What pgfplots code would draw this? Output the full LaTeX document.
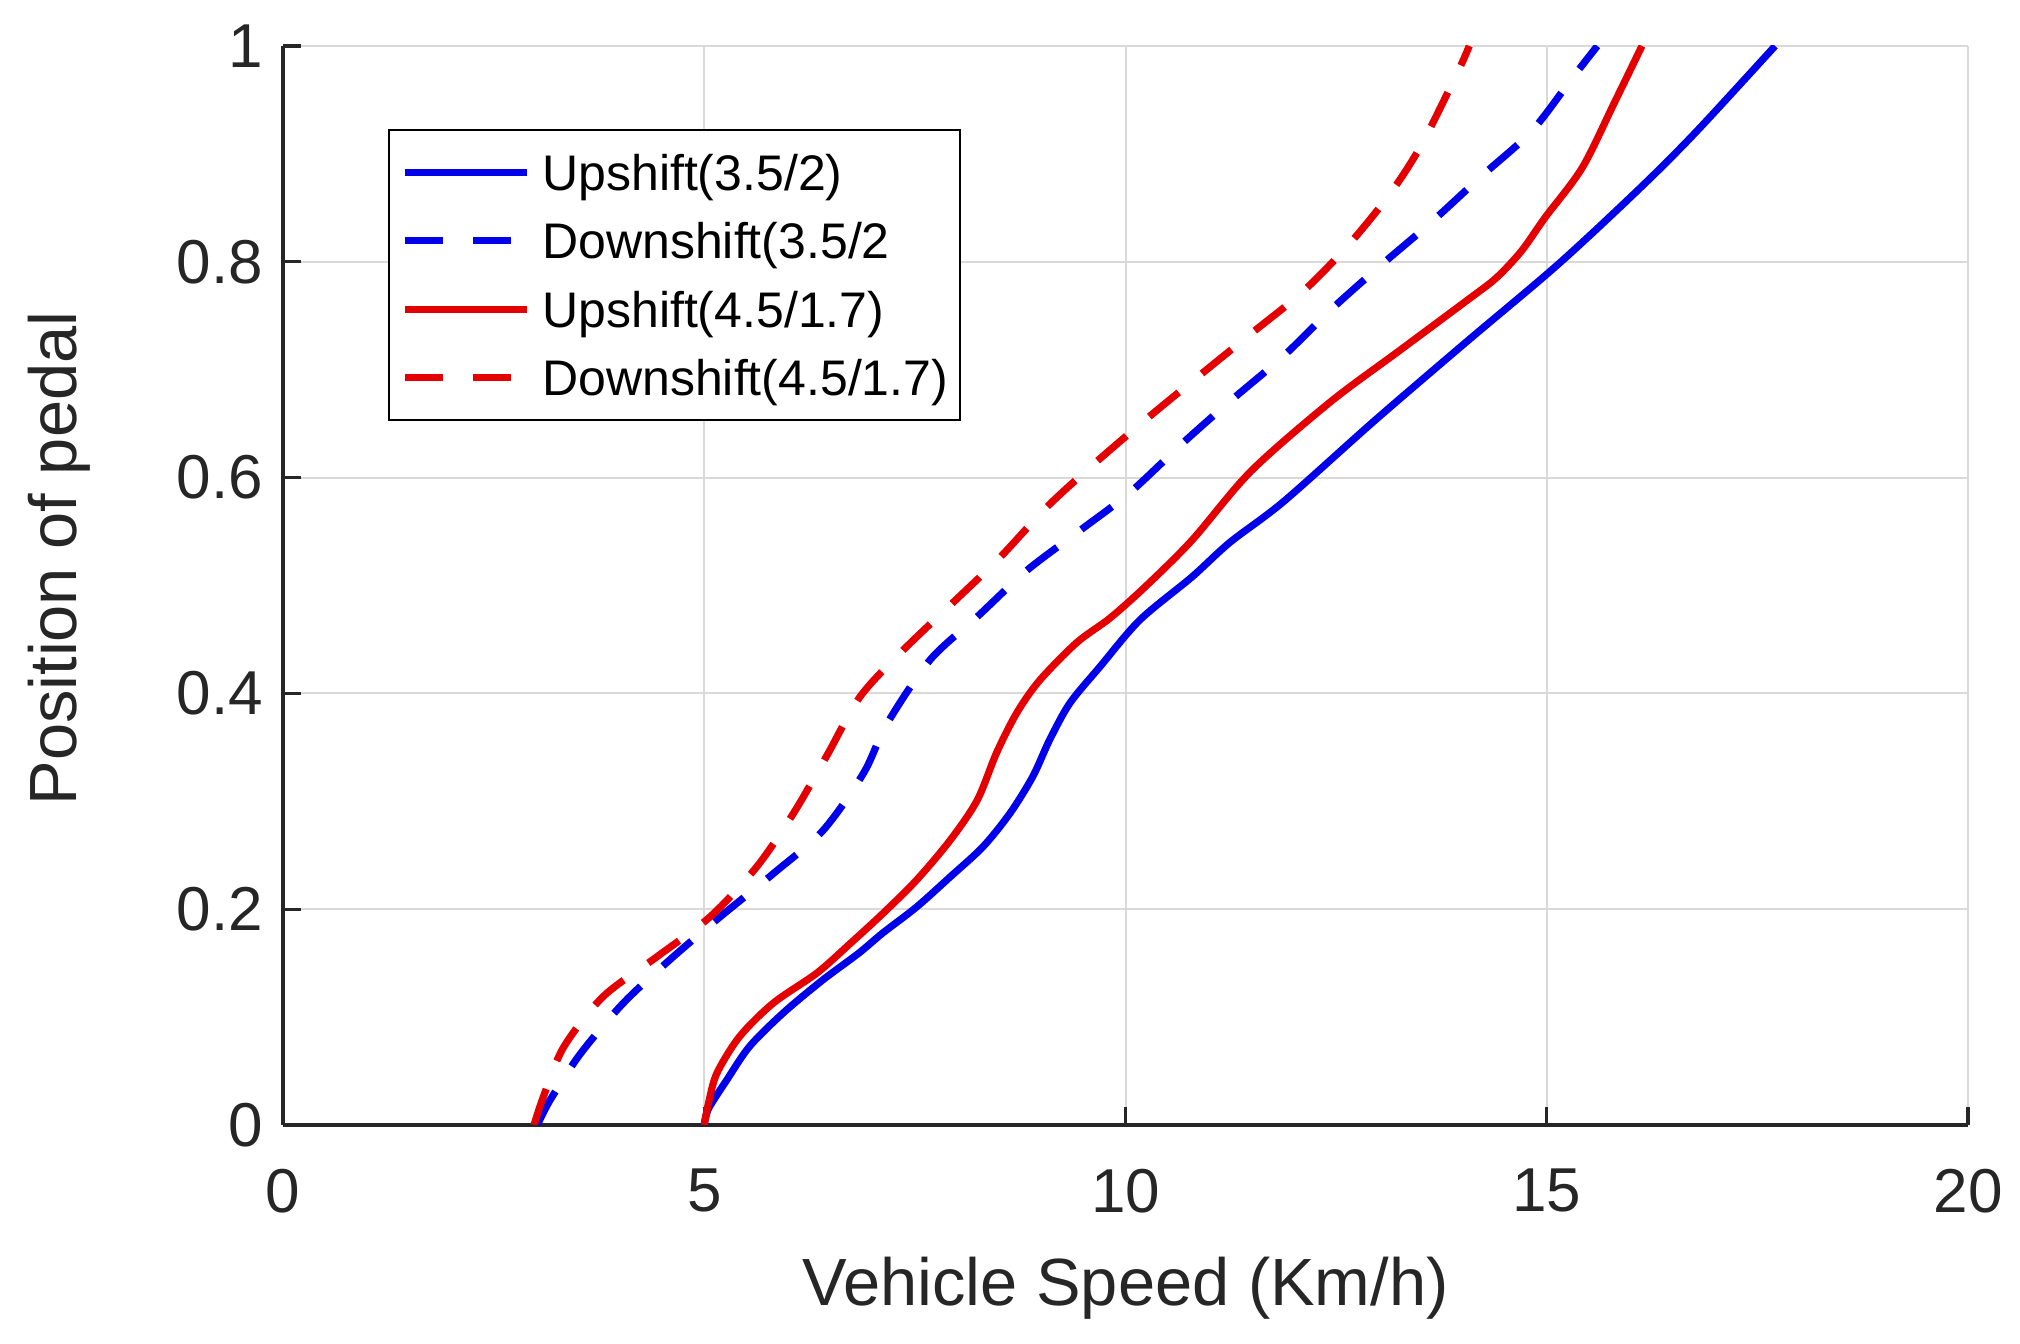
\documentclass[border=0pt]{standalone}
\usepackage{pgfplots}
\pgfplotsset{compat=1.18}
\usepackage{fontspec}
\setmainfont{Liberation Sans}
\definecolor{mblue}{RGB}{0,0,235}
\definecolor{mred}{RGB}{228,0,0}
\definecolor{axgray}{RGB}{38,38,38}
\begin{document}
\begin{tikzpicture}
\begin{axis}[
  name=ax,
  scale only axis, width=421.25pt, height=269.75pt,
  xmin=0, xmax=20, ymin=0, ymax=1,
  xtick={0,5,10,15,20}, ytick={0,0.2,0.4,0.6,0.8,1},
  axis x line*=bottom, axis y line*=left,
  axis line style={axgray, line width=0.8pt, -},
  tick align=inside, major tick length=4.5pt,
  tick style={axgray, line width=0.8pt},
  grid=major, grid style={black!15, line width=0.5pt},
  /pgf/number format/assume math mode=true,
  ticklabel style={font=\fontsize{15.5}{18}\selectfont, text=axgray},
  xticklabel style={yshift=-7.5pt},
  yticklabel style={xshift=-1.5pt},
  xlabel={Vehicle Speed (Km/h)}, ylabel={Position of pedal},
  label style={font=\fontsize{16.7}{20}\selectfont, text=axgray},
  xlabel style={at={(axis description cs:0.5,-0.151)}, anchor=center},
  ylabel style={at={(axis description cs:-0.133,0.525)}, anchor=center},
  legend cell align=left,
  legend image code/.code={\draw[#1] (0pt,0pt) -- (30.5pt,0pt);},
  legend style={at={(axis description cs:0.0623,0.923)}, anchor=north west,
    draw=black, line width=0.6pt, inner xsep=3pt, inner ysep=2pt,
    column sep=3pt, font=\fontsize{12.5}{15}\selectfont,
    nodes={inner sep=0pt, text height=13pt, text depth=4.1pt}},
  every axis plot/.append style={line width=1.8pt, smooth, tension=0.5},
]
\addplot[mblue, solid] coordinates {
(5.00,0) (5.05,0.015) (5.27,0.042) (5.54,0.073) (5.94,0.104) (6.40,0.134)
(6.83,0.159) (7.12,0.178) (7.52,0.202) (7.92,0.230) (8.31,0.258) (8.63,0.289)
(8.90,0.323) (9.10,0.357) (9.34,0.391) (9.70,0.425) (10.17,0.468)
(10.79,0.508) (11.24,0.540) (11.88,0.578) (12.96,0.653) (14.05,0.726)
(15.14,0.798) (16.13,0.870) (16.78,0.921) (17.71,1.0)};
\addlegendentry{Upshift(3.5/2)}
\addplot[mblue, dash pattern=on 9.5pt off 7.5pt] coordinates {
(3.02,0) (3.17,0.023) (3.53,0.066) (4.04,0.113) (4.59,0.153) (5.19,0.193)
(5.82,0.233) (6.41,0.273) (6.89,0.326) (7.17,0.372) (7.68,0.431) (8.24,0.471)
(8.83,0.514) (9.46,0.551) (10.05,0.586) (10.68,0.632) (11.23,0.670)
(11.88,0.713) (12.43,0.755) (13.02,0.796) (13.62,0.836) (14.22,0.879)
(14.82,0.921) (15.30,0.970) (15.60,1.0)};
\addlegendentry{Downshift(3.5/2}
\addplot[mred, solid] coordinates {
(5.00,0) (5.05,0.02) (5.15,0.048) (5.42,0.082) (5.82,0.113) (6.34,0.141)
(6.73,0.168) (7.12,0.196) (7.52,0.227) (7.92,0.264) (8.24,0.301) (8.47,0.345)
(8.71,0.382) (8.98,0.412) (9.42,0.447) (9.82,0.470) (10.25,0.500)
(10.79,0.542) (11.49,0.606) (12.43,0.670) (13.24,0.717) (14.05,0.764)
(14.40,0.785) (14.70,0.810) (14.98,0.841) (15.42,0.887) (15.80,0.947)
(16.13,1.0)};
\addlegendentry{Upshift(4.5/1.7)}
\addplot[mred, dash pattern=on 9.5pt off 7.5pt] coordinates {
(2.98,0) (3.09,0.026) (3.33,0.072) (3.80,0.119) (4.44,0.156) (5.07,0.193)
(5.62,0.239) (6.06,0.289) (6.46,0.343) (6.85,0.397) (7.36,0.440) (7.95,0.484)
(8.51,0.526) (9.07,0.573) (9.66,0.615) (10.29,0.657) (10.90,0.696)
(11.50,0.734) (12.10,0.772) (12.64,0.815) (13.13,0.862) (13.51,0.908)
(13.95,0.977) (14.08,1.0)};
\addlegendentry{Downshift(4.5/1.7)}
\end{axis}
\pgfresetboundingbox
\path (ax.south west) ++(-70.75pt,-54.75pt) rectangle ++(505pt,336pt);
\end{tikzpicture}
\end{document}
